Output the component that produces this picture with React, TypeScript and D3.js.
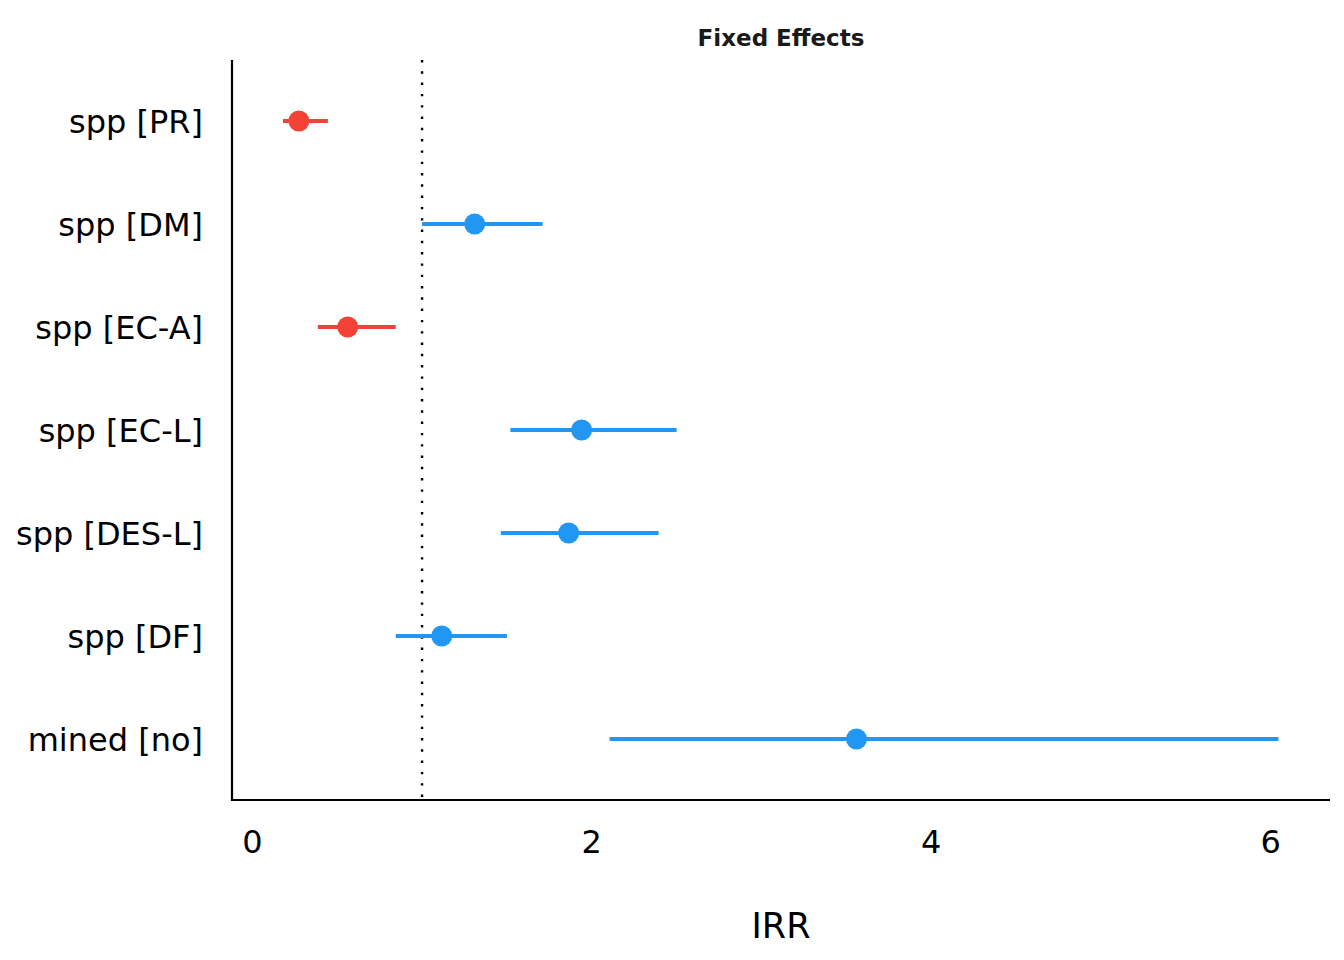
import React, { useEffect, useRef } from "react";
import * as d3 from "d3";

// --- Data
const terms = [
  "spp [PR]",
  "spp [DM]",
  "spp [EC-A]",
  "spp [EC-L]",
  "spp [DES-L]",
  "spp [DF]",
  "mined [no]",
];
const estimates = [0.274, 1.31, 0.562, 1.94, 1.864, 1.116, 3.56];
const ciLow = [0.18, 1.0, 0.386, 1.52, 1.464, 0.845, 2.105];
const ciHigh = [0.445, 1.71, 0.845, 2.5, 2.394, 1.5, 6.046];
const xTicks = [0, 2, 4, 6];

const RED = "#F44336";
const BLUE = "#2196F3";

const App: React.FC = () => {
  const ref = useRef<SVGSVGElement | null>(null);

  useEffect(() => {
    if (!ref.current) return;
    const width = 1344;
    const height = 960;

    const svgRoot = d3.select(ref.current);
    svgRoot.selectAll("*").remove();
    svgRoot.attr("width", width).attr("height", height);

    const font = "DejaVu Sans, sans-serif";

    // plot panel bounds
    const left = 232;
    const right = 1330;
    const top = 60;
    const bottom = 800;

    const x = d3
      .scaleLinear()
      .domain([-0.12, 6.35])
      .range([left, right]);

    const y = d3
      .scalePoint<string>()
      .domain(terms)
      .range([121, 739]);

    const rows = terms.map((t, i) => ({
      term: t,
      est: estimates[i],
      lo: ciLow[i],
      hi: ciHigh[i],
    }));

    const g = svgRoot.append("g");

    // reference line at IRR = 1
    g.append("line")
      .attr("x1", x(1))
      .attr("x2", x(1))
      .attr("y1", top)
      .attr("y2", bottom)
      .attr("stroke", "#000")
      .attr("stroke-width", 2.4)
      .attr("stroke-dasharray", "2.4,8.9");

    // CI lines
    g.selectAll(".ci")
      .data(rows)
      .join("line")
      .attr("class", "ci")
      .attr("x1", (d) => x(d.lo))
      .attr("x2", (d) => x(d.hi))
      .attr("y1", (d) => y(d.term)!)
      .attr("y2", (d) => y(d.term)!)
      .attr("stroke", (d) => (d.est < 1 ? RED : BLUE))
      .attr("stroke-width", 4);

    // points
    g.selectAll(".pt")
      .data(rows)
      .join("circle")
      .attr("class", "pt")
      .attr("cx", (d) => x(d.est))
      .attr("cy", (d) => y(d.term)!)
      .attr("r", 10.5)
      .attr("fill", (d) => (d.est < 1 ? RED : BLUE));

    // axis lines
    g.append("line")
      .attr("x1", left)
      .attr("x2", left)
      .attr("y1", top)
      .attr("y2", bottom + 1)
      .attr("stroke", "#000")
      .attr("stroke-width", 2.2);
    g.append("line")
      .attr("x1", left - 1)
      .attr("x2", right)
      .attr("y1", bottom)
      .attr("y2", bottom)
      .attr("stroke", "#000")
      .attr("stroke-width", 2.2);

    // y labels
    g.selectAll(".ylab")
      .data(terms)
      .join("text")
      .attr("class", "ylab")
      .attr("x", 203)
      .attr("y", (d) => y(d)!)
      .attr("dy", "0.36em")
      .attr("text-anchor", "end")
      .style("font-family", font)
      .style("font-size", "32px")
      .style("fill", "#000")
      .text((d) => d);

    // x tick labels
    g.selectAll(".xlab")
      .data(xTicks)
      .join("text")
      .attr("class", "xlab")
      .attr("x", (d) => x(d))
      .attr("y", 853)
      .attr("text-anchor", "middle")
      .style("font-family", font)
      .style("font-size", "32px")
      .style("fill", "#000")
      .text((d) => d3.format("d")(d));

    // x title
    g.append("text")
      .attr("x", (left + right) / 2)
      .attr("y", 938)
      .attr("text-anchor", "middle")
      .style("font-family", font)
      .style("font-size", "35px")
      .style("fill", "#000")
      .text("IRR");

    // plot title
    g.append("text")
      .attr("x", (left + right) / 2)
      .attr("y", 46)
      .attr("text-anchor", "middle")
      .style("font-family", font)
      .style("font-size", "23px")
      .style("font-weight", "bold")
      .style("fill", "#1a1a1a")
      .text("Fixed Effects");

    return () => {
      svgRoot.selectAll("*").remove();
    };
  }, []);

  return (
    <svg
      ref={ref}
      style={{ position: "absolute", left: 0, top: 0, display: "block" }}
    ></svg>
  );
};

export default App;
